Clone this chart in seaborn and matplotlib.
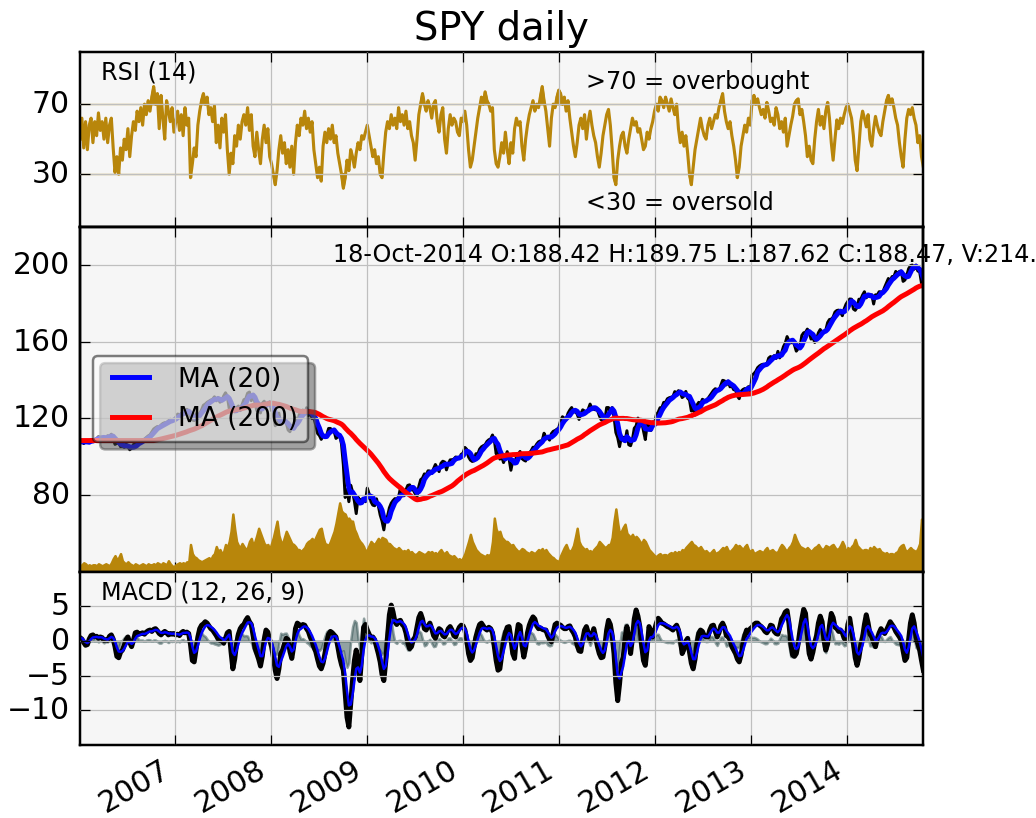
import numpy as np
import pandas as pd
import matplotlib
matplotlib.use("Agg")
import matplotlib.pyplot as plt
import matplotlib.dates as mdates
import seaborn as sns

ticker = "SPY"

# Weekly (Friday) dividend-adjusted closes, one list per calendar year
close_2006 = [108.0, 108.6, 106.9, 108.2, 107.4, 107.9, 109.0, 108.6, 108.9, 109.6,
              110.6, 110.1, 109.8, 110.0, 109.9, 111.0, 110.8, 111.8, 109.5, 106.5,
              107.0, 107.4, 105.3, 105.6, 104.9, 106.8, 105.3, 103.7, 104.5, 106.4,
              106.6, 106.3, 108.2, 108.3, 108.9, 109.2, 110.1, 110.9, 111.5, 113.0,
              114.5, 115.2, 115.8, 115.5, 116.6, 117.4, 117.8, 117.8, 118.7, 119.6,
              119.0, 119.4]
close_2007 = [120.6, 122.3, 122.0, 122.4, 123.6, 123.0, 124.8, 123.9, 119.7, 119.2,
              118.9, 122.4, 121.9, 122.6, 124.5, 126.9, 127.5, 128.4, 129.0, 129.6,
              130.0, 131.3, 129.2, 131.0, 128.5, 129.1, 131.7, 133.4, 131.5, 125.3,
              123.2, 124.0, 123.5, 125.6, 126.5, 124.1, 127.2, 129.8, 130.2, 133.2,
              133.8, 129.3, 132.6, 128.4, 124.1, 125.0, 122.9, 127.9, 129.0, 126.7,
              127.5, 128.7]
close_2008 = [124.1, 123.4, 116.2, 117.5, 122.8, 117.0, 118.4, 119.4, 117.7, 114.0,
              113.1, 116.4, 115.7, 120.4, 117.0, 121.9, 123.2, 124.4, 122.2, 125.6,
              121.4, 123.6, 119.9, 120.3, 116.6, 112.2, 111.1, 109.1, 111.0, 110.9,
              111.4, 114.8, 114.8, 113.2, 113.3, 109.6, 110.4, 111.5, 106.7, 95.9,
              78.8, 82.9, 76.6, 85.2, 81.8, 76.9, 70.4, 78.9, 77.3, 77.9,
              78.1, 76.6]
close_2009 = [83.7, 80.7, 76.6, 74.8, 74.5, 78.1, 74.5, 69.7, 66.5, 61.9,
              68.3, 69.0, 73.4, 75.8, 77.2, 78.2, 78.0, 79.0, 83.7, 79.8,
              79.7, 82.8, 85.1, 85.4, 82.8, 82.7, 80.8, 79.2, 84.6, 88.1,
              88.9, 91.1, 90.5, 92.7, 92.6, 91.4, 93.8, 96.0, 94.1, 92.3,
              96.6, 97.7, 97.3, 93.2, 96.2, 98.4, 98.5, 98.8, 99.9, 99.7,
              99.2, 101.3]
close_2010 = [101.9, 104.9, 103.9, 99.9, 98.3, 97.6, 97.9, 101.6, 101.3, 104.0,
              105.2, 105.8, 106.3, 108.0, 108.9, 109.3, 111.4, 108.7, 101.6, 104.2,
              98.8, 100.1, 97.0, 99.7, 102.7, 99.0, 93.0, 97.9, 97.0, 99.9,
              101.4, 102.8, 99.1, 98.3, 97.8, 101.5, 102.0, 103.2, 105.0, 104.9,
              106.6, 107.8, 108.3, 108.4, 112.3, 110.2, 110.1, 108.7, 112.1, 113.3,
              113.7, 114.4, 115.1]
close_2011 = [118.9, 120.9, 120.1, 119.4, 122.7, 124.4, 125.7, 123.3, 123.6, 122.3,
              119.5, 122.5, 124.5, 123.9, 122.8, 124.8, 127.5, 125.3, 124.8, 124.5,
              124.4, 121.6, 119.3, 118.8, 118.6, 125.7, 125.7, 123.1, 125.7, 120.9,
              112.7, 110.0, 105.3, 110.3, 110.2, 107.9, 113.6, 106.3, 105.8, 109.0,
              114.9, 116.1, 120.2, 117.3, 118.5, 113.5, 109.0, 116.9, 117.8, 113.7,
              118.2, 117.3]
close_2012 = [122.0, 123.3, 125.6, 125.7, 128.4, 128.4, 130.3, 130.8, 131.1, 131.4,
              134.0, 133.3, 134.5, 133.5, 130.9, 131.7, 134.1, 130.6, 129.6, 123.9,
              126.0, 121.8, 126.9, 128.4, 127.6, 130.0, 129.4, 129.4, 130.4, 131.8,
              133.1, 134.6, 135.5, 135.1, 134.5, 137.3, 139.9, 139.6, 137.5, 139.5,
              136.5, 136.9, 135.0, 134.9, 131.8, 130.3, 134.1, 135.1, 135.6, 135.5,
              136.6, 133.7]
close_2013 = [142.7, 143.4, 144.6, 146.5, 147.4, 148.0, 148.3, 148.1, 148.3, 151.5,
              152.3, 151.7, 152.8, 151.3, 155.0, 151.6, 154.2, 157.4, 159.3, 162.7,
              160.5, 159.4, 160.7, 158.3, 155.1, 156.4, 157.2, 163.3, 164.7, 164.9,
              166.6, 165.1, 161.4, 162.4, 159.6, 161.4, 164.7, 166.4, 164.8, 165.0,
              166.0, 170.0, 171.6, 171.8, 172.9, 175.5, 176.3, 176.5, 175.5, 173.6,
              177.1, 179.6]
close_2014 = [181.1, 182.3, 182.2, 177.1, 176.4, 177.9, 182.2, 182.1, 184.4, 186.1,
              182.9, 184.3, 183.5, 184.5, 179.7, 184.5, 184.4, 186.1, 186.0, 186.0,
              188.5, 190.8, 193.0, 191.6, 194.0, 193.9, 196.7, 195.6, 196.7, 196.9,
              191.5, 192.2, 194.7, 198.1, 199.7, 200.0, 197.8, 200.0, 196.9, 196.5,
              190.5, 188.47]

# Relative strength index (14), sampled weekly
rsi_2006 = [50, 62, 45, 60, 44, 58, 62, 48, 60, 52, 65, 55, 60, 50, 62, 48, 58, 62, 45, 31,
            40, 30, 45, 38, 50, 44, 56, 40, 52, 60, 55, 66, 60, 68, 58, 70, 64, 72, 66, 74,
            80, 70, 76, 56, 75, 62, 50, 72, 66, 60, 68, 54]
rsi_2007 = [60, 66, 55, 64, 52, 68, 58, 62, 28, 36, 45, 40, 58, 66, 72, 76, 70, 74, 64, 68,
            60, 69, 48, 58, 45, 62, 54, 64, 44, 30, 42, 36, 52, 46, 58, 50, 60, 64, 58, 68,
            55, 64, 46, 40, 54, 44, 36, 50, 58, 48, 56, 40]
rsi_2008 = [36, 30, 24, 32, 44, 52, 42, 48, 36, 44, 34, 46, 30, 48, 58, 52, 62, 58, 66, 56,
            62, 54, 60, 44, 36, 28, 34, 26, 46, 54, 48, 56, 50, 58, 48, 52, 42, 36, 30, 22,
            28, 38, 32, 44, 40, 34, 42, 48, 44, 52, 50, 54]
rsi_2009 = [58, 52, 46, 40, 44, 36, 40, 30, 28, 42, 54, 60, 56, 64, 58, 62, 56, 68, 60, 64,
            58, 66, 56, 60, 52, 48, 38, 50, 64, 70, 76, 70, 66, 72, 68, 62, 70, 72, 60, 54,
            64, 68, 50, 42, 56, 64, 58, 62, 60, 54, 52, 62]
rsi_2010 = [60, 66, 58, 44, 34, 38, 46, 54, 62, 68, 74, 70, 77, 72, 70, 66, 68, 44, 36, 34,
            40, 48, 42, 54, 44, 36, 48, 42, 56, 62, 58, 60, 46, 38, 50, 58, 64, 68, 72, 66,
            70, 68, 74, 80, 72, 66, 56, 46, 62, 70, 68, 74, 78]
rsi_2011 = [76, 70, 74, 66, 72, 62, 54, 46, 40, 48, 58, 62, 56, 64, 50, 60, 66, 58, 52, 48,
            40, 34, 42, 52, 58, 64, 67, 58, 44, 28, 24, 38, 46, 52, 54, 46, 42, 50, 56, 62,
            58, 60, 54, 56, 50, 44, 46, 54, 50, 56, 60, 66]
rsi_2012 = [70, 66, 74, 72, 68, 74, 70, 66, 73, 68, 64, 70, 56, 48, 54, 46, 52, 42, 30, 24,
            34, 44, 50, 56, 62, 56, 52, 50, 58, 62, 56, 60, 64, 62, 68, 72, 76, 66, 60, 56,
            60, 52, 46, 38, 28, 34, 46, 52, 58, 54, 62, 58]
rsi_2013 = [72, 75, 70, 73, 68, 64, 67, 62, 71, 66, 60, 62, 58, 68, 64, 56, 60, 54, 62, 46,
            52, 58, 63, 70, 72, 73, 64, 67, 60, 52, 40, 46, 38, 36, 50, 60, 67, 58, 63, 56,
            66, 71, 62, 48, 38, 50, 61, 56, 62, 59, 64, 68]
rsi_2014 = [70, 66, 62, 52, 38, 32, 46, 60, 66, 62, 57, 64, 50, 46, 56, 63, 58, 54, 52, 60,
            66, 72, 75, 70, 73, 68, 62, 58, 48, 40, 34, 50, 62, 67, 64, 68, 62, 58, 48, 52,
            40, 34]

# MACD (12, 26, 9) line, sampled weekly
macd_2006 = [0.5, 0.3, -0.2, -0.6, -0.5, 0.3, 0.8, 0.9, 0.6, 0.7, 0.4, 0.6, 0.5, 0.1, 0.2,
             0.1, 0.7, 0.9, 0.3, -0.8, -2.2, -2.4, -1.6, -1.3, -0.6, 0.2, 0.6, -0.2, -0.8,
             0.1, 1.2, 1.3, 1.0, 1.1, 1.2, 1.0, 1.3, 1.5, 1.6, 1.4, 1.7, 1.8, 1.5, 1.1, 0.9,
             1.2, 1.4, 1.2, 0.9, 1.1, 1.0, 1.1]
macd_2007 = [0.9, 1.0, 0.8, 1.2, 1.4, 1.2, 1.3, 1.1, -0.5, -2.8, -3.0, -1.2, 0.6, 1.8, 2.3,
             2.5, 2.8, 2.6, 2.2, 1.8, 1.6, 1.2, 0.8, 0.3, 0.1, 0.2, -0.3, 0.4, 1.2, 1.4,
             -1.5, -4.0, -2.6, -0.4, 1.0, 1.8, 2.2, 2.4, 3.0, 3.4, 2.8, 2.4, 0.8, -1.0, -1.8,
             -2.6, -3.6, -2.2, 0.2, 1.6, 1.3, 0.2]
macd_2008 = [-0.8, -2.3, -4.2, -5.4, -4.0, -1.8, -1.3, -0.4, 0.4, 0.2, -1.5, -2.5, -0.8, 1.8,
             2.6, 2.4, 2.1, 2.4, 2.3, 1.8, 1.4, 0.6, 0.0, -0.9, -1.5, -2.6, -3.6, -4.0, -3.2,
             -1.8, -0.2, 1.0, 1.4, 1.2, 0.9, 0.6, -0.8, -2.3, -3.4, -4.2, -7.5, -11.0, -12.4,
             -9.0, -5.7, -2.8, -1.3, -3.5, -5.7, -2.0, 2.0, 2.4]
macd_2009 = [1.6, 1.0, 0.4, 0.6, 0.2, -0.8, -1.8, -3.0, -4.8, -5.7, -3.0, 0.6, 3.8, 5.2, 4.2,
             2.8, 2.4, 2.9, 3.0, 2.4, 2.1, 1.2, -0.2, -1.1, -0.8, 0.2, 0.6, 2.0, 3.4, 4.0,
             3.2, 1.8, 1.6, 2.2, 2.6, 1.8, 0.8, 0.4, 1.2, 1.8, 1.6, 0.8, 0.6, 1.1, 1.8, 2.1,
             1.6, 0.8, 0.6, 1.4, 2.0, 2.3]
macd_2010 = [2.2, 1.6, 0.2, -1.8, -2.8, -2.4, -0.8, 0.6, 1.6, 2.4, 2.6, 2.2, 1.8, 1.6, 2.0,
             1.8, 1.2, -0.8, -2.8, -4.2, -4.0, -2.0, 0.0, 1.2, 2.0, 2.1, 0.4, -1.8, -2.5, 0.6,
             2.4, 2.2, -0.6, -2.3, -1.0, 1.2, 2.3, 3.0, 3.5, 3.2, 2.2, 1.8, 1.9, 1.7, 1.6,
             1.6, 0.8, 0.2, -0.1, 1.2, 2.4, 2.6, 2.4]
macd_2011 = [2.3, 2.0, 1.8, 1.8, 2.1, 2.2, 1.6, 1.2, 0.6, -0.6, -1.4, -1.5, 0.2, 1.6, 2.1,
             1.2, 0.1, 0.8, 1.8, 0.6, -0.8, -1.8, -2.4, -2.3, -0.8, 1.6, 3.0, 2.4, 0.8, -1.8,
             -6.0, -8.6, -6.2, -3.2, -2.3, 0.4, 2.1, 0.6, -1.8, 0.4, 3.2, 4.5, 3.6, 2.1, -0.6,
             -2.8, -3.5, -1.0, 2.1, 1.4, 0.6, 1.6]
macd_2012 = [2.6, 3.3, 3.0, 2.6, 2.5, 2.3, 2.1, 2.0, 1.8, 1.6, 2.0, 2.3, 1.6, 0.2, -1.8,
             -1.2, 0.0, 0.4, -1.6, -3.2, -4.0, -2.6, -0.4, 1.1, 1.6, 1.4, 0.8, 0.6, 0.6, 1.6,
             2.2, 2.3, 1.4, 0.6, 1.2, 2.2, 2.6, 2.0, 0.8, 0.6, 0.2, -0.8, -1.3, -1.8, -2.6,
             -3.0, -2.0, -0.4, 0.8, 1.6, 1.2, 1.8]
macd_2013 = [2.0, 2.4, 2.6, 2.6, 2.3, 2.1, 1.8, 1.4, 1.2, 1.6, 2.3, 2.2, 1.4, 1.1, 1.0, 2.0,
             3.2, 3.6, 4.2, 4.4, 2.6, -0.4, -2.0, -2.2, -1.8, -0.4, 1.6, 3.2, 4.6, 4.0, 1.0,
             -1.8, -2.6, -1.6, -0.2, 0.8, 2.6, 3.6, 2.8, 0.2, -1.3, -0.4, 2.2, 4.0, 3.4, 2.0,
             1.8, 1.4, 1.6, 1.2, 0.4, 0.1]
macd_2014 = [2.4, 3.3, 1.6, -0.3, -2.4, -3.5, -2.4, -0.6, 0.6, 2.4, 3.8, 2.6, 1.0, 0.6, -0.2,
             -0.8, 0.4, 1.2, 1.8, 1.4, 1.1, 1.6, 2.2, 2.8, 2.4, 2.0, 1.4, 1.0, 0.6, 0.1, -1.4,
             -2.8, -2.4, 0.2, 2.6, 3.8, 2.6, 0.6, -0.4, -1.3, -2.8, -4.2]

# Traded value (close x volume), $bn per session, sampled weekly
vol_2006 = [6, 7, 9, 8, 6, 7, 6, 7, 7, 6, 8, 7, 6, 7, 8, 7, 6, 9, 13, 16, 12, 14, 18, 11, 9,
            8, 10, 8, 7, 6, 8, 7, 6, 7, 8, 7, 6, 8, 7, 7, 8, 7, 9, 8, 7, 9, 8, 7, 11, 8, 6, 5]
vol_2007 = [7, 8, 9, 8, 9, 8, 10, 9, 27, 18, 15, 14, 12, 11, 10, 11, 12, 13, 14, 12, 16, 18,
            25, 20, 22, 18, 20, 27, 24, 30, 40, 57, 42, 30, 26, 24, 28, 25, 22, 24, 30, 33,
            26, 30, 36, 43, 38, 33, 28, 26, 27, 22]
vol_2008 = [28, 34, 42, 50, 36, 30, 28, 34, 40, 36, 32, 28, 27, 25, 22, 22, 20, 22, 24, 28,
            30, 31, 33, 30, 34, 38, 42, 43, 34, 28, 27, 26, 30, 35, 40, 48, 58, 68, 60, 58,
            57, 52, 53, 50, 50, 42, 38, 33, 30, 28, 25, 20]
vol_2009 = [22, 26, 30, 28, 27, 30, 33, 30, 34, 33, 32, 28, 28, 26, 24, 23, 22, 24, 22, 20,
            21, 20, 22, 19, 20, 18, 17, 18, 20, 19, 18, 17, 18, 20, 19, 20, 18, 19, 17, 20,
            22, 19, 18, 20, 17, 16, 15, 16, 14, 12, 13, 11]
vol_2010 = [14, 18, 24, 30, 37, 30, 26, 22, 20, 18, 17, 16, 15, 17, 16, 18, 30, 53, 42, 38,
            40, 34, 32, 30, 30, 28, 26, 27, 24, 22, 20, 21, 23, 22, 20, 19, 18, 20, 19, 18,
            20, 22, 21, 23, 20, 22, 19, 17, 15, 14, 12, 11, 10]
vol_2011 = [16, 20, 24, 27, 22, 20, 22, 26, 34, 43, 30, 26, 24, 22, 23, 20, 21, 19, 22, 24,
            26, 30, 28, 26, 24, 25, 27, 27, 34, 50, 62, 48, 37, 40, 44, 47, 38, 36, 34, 37,
            33, 35, 33, 30, 28, 32, 30, 26, 22, 20, 18, 16]
vol_2012 = [15, 17, 18, 16, 17, 17, 16, 18, 19, 18, 20, 18, 20, 19, 22, 21, 24, 26, 28, 30,
            27, 26, 24, 23, 25, 22, 20, 21, 19, 18, 20, 22, 18, 19, 20, 22, 24, 23, 25, 21,
            20, 22, 24, 27, 25, 26, 24, 22, 25, 27, 22, 20]
vol_2013 = [22, 18, 19, 20, 21, 20, 19, 22, 24, 20, 21, 22, 20, 19, 20, 24, 27, 25, 22, 21,
            24, 26, 30, 37, 32, 28, 25, 24, 23, 22, 24, 22, 20, 22, 24, 25, 27, 24, 22, 23,
            26, 25, 24, 26, 27, 24, 22, 23, 26, 30, 26, 18]
vol_2014 = [24, 22, 25, 27, 32, 26, 24, 22, 21, 22, 22, 20, 24, 22, 25, 23, 22, 23, 20, 19,
            18, 19, 17, 18, 18, 17, 19, 20, 24, 26, 27, 22, 20, 22, 24, 22, 21, 20, 23, 28,
            52, 45]

# Last session quote shown in the price panel
last_date = "18-Oct-2014"
last_open, last_high, last_low = 188.42, 189.75, 187.62
last_volume_m = 214.5

years = range(2006, 2015)
close = np.array(sum((globals()[f"close_{y}"] for y in years), []), dtype=float)
rsi = np.array(sum((globals()[f"rsi_{y}"] for y in years), []), dtype=float)
macd = np.array(sum((globals()[f"macd_{y}"] for y in years), []), dtype=float)
volume = np.array(sum((globals()[f"vol_{y}"] for y in years), []), dtype=float)
assert len(close) == len(rsi) == len(macd) == len(volume)

dates = pd.date_range("2006-01-06", periods=len(close), freq="W-FRI")


def moving_average(x, n):
    """Trailing simple moving average; the warm-up period is held flat."""
    a = pd.Series(x).rolling(n, min_periods=1).mean().to_numpy()
    a[:n] = a[n]
    return a


# 20 and 200 sessions expressed in weekly samples
ma20 = moving_average(close, 4)
ma200 = moving_average(close, 40)
ema9 = pd.Series(macd).ewm(alpha=0.4, adjust=False).mean().to_numpy()

plt.style.use("classic")
plt.rc("axes", grid=True)
plt.rc("grid", color="0.75", linestyle="-", linewidth=0.5)

DPI = 179
fig = plt.figure(figsize=(1036.4 / DPI, 818.4 / DPI), dpi=DPI, facecolor="white")
textsize = 9.6
axescolor = "#f6f6f6"

left, width = 80 / 1036, 843 / 1036
rect1 = [left, 1 - 227 / 818, width, 175 / 818]
rect2 = [left, 1 - 572 / 818, width, 345 / 818]
rect3 = [left, 1 - 745 / 818, width, 173 / 818]

ax1 = fig.add_axes(rect1, facecolor=axescolor)
ax2 = fig.add_axes(rect2, facecolor=axescolor, sharex=ax1)
ax2t = ax2.twinx()
ax3 = fig.add_axes(rect3, facecolor=axescolor, sharex=ax1)

# --- RSI panel
fillcolor = "darkgoldenrod"
sns.lineplot(x=dates, y=rsi, ax=ax1, color=fillcolor, lw=1.25)
ax1.axhline(70, color=fillcolor, lw=0.5)
ax1.axhline(30, color=fillcolor, lw=0.5)
ax1.fill_between(dates, rsi, 70, where=(rsi >= 70), facecolor=fillcolor, edgecolor=fillcolor)
ax1.fill_between(dates, rsi, 30, where=(rsi <= 30), facecolor=fillcolor, edgecolor=fillcolor)
ax1.text(0.6, 0.9, ">70 = overbought", va="top", transform=ax1.transAxes, fontsize=textsize)
ax1.text(0.6, 0.1, "<30 = oversold", transform=ax1.transAxes, fontsize=textsize)
ax1.set_ylim(0, 100)
ax1.set_yticks([30, 70])
ax1.text(0.025, 0.95, "RSI (14)", va="top", transform=ax1.transAxes, fontsize=textsize)
ax1.set_title(f"{ticker} daily", fontsize=15.5)

# --- price panel
sns.lineplot(x=dates, y=close, ax=ax2, color="black", lw=1.2, label="_nolegend_")
sns.lineplot(x=dates, y=ma20, ax=ax2, color="blue", lw=2, label="MA (20)")
sns.lineplot(x=dates, y=ma200, ax=ax2, color="red", lw=2, label="MA (200)")
s = "%s O:%1.2f H:%1.2f L:%1.2f C:%1.2f, V:%1.1fM Chg:%+1.2f" % (
    last_date, last_open, last_high, last_low, close[-1], last_volume_m, close[-1] - last_open)
ax2.text(0.3, 0.9, s, transform=ax2.transAxes, fontsize=textsize)
leg = ax2.legend(loc="center left", shadow={"ox": 2.8, "oy": -2.8}, fancybox=True,
                 prop={"size": 10.6})
leg.get_frame().set_alpha(0.5)
ax2.set_ylim(40, 220)
ax2.set_yticks([80, 120, 160, 200])

vmax = volume.max()
ax2t.fill_between(dates, volume, 0, facecolor=fillcolor, edgecolor=fillcolor)
ax2t.set_ylim(0, 5 * vmax)
ax2t.set_yticks([])

# --- MACD panel
fillcolor = "darkslategrey"
sns.lineplot(x=dates, y=macd, ax=ax3, color="black", lw=2)
sns.lineplot(x=dates, y=ema9, ax=ax3, color="blue", lw=1)
ax3.fill_between(dates, macd - ema9, 0, alpha=0.5, facecolor=fillcolor, edgecolor=fillcolor)
ax3.text(0.025, 0.95, "MACD (12, 26, 9)", va="top", transform=ax3.transAxes, fontsize=textsize)
ax3.set_ylim(-15, 10)
ax3.set_yticks([-10, -5, 0, 5])

for ax in (ax1, ax2, ax2t, ax3):
    ax.set_xlabel("")
    ax.set_ylabel("")
ax3.set_xlim(dates[0], dates[-1])
ax3.xaxis.set_major_locator(mdates.YearLocator())
ax3.xaxis.set_major_formatter(mdates.DateFormatter("%Y"))
ax1.tick_params(labelbottom=False)
ax2.tick_params(labelbottom=False)
ax2t.tick_params(labelbottom=False)
for label in ax3.get_xticklabels():
    label.set_rotation(30)
    label.set_horizontalalignment("right")

fig.savefig("out.png", dpi=DPI, facecolor="white")
